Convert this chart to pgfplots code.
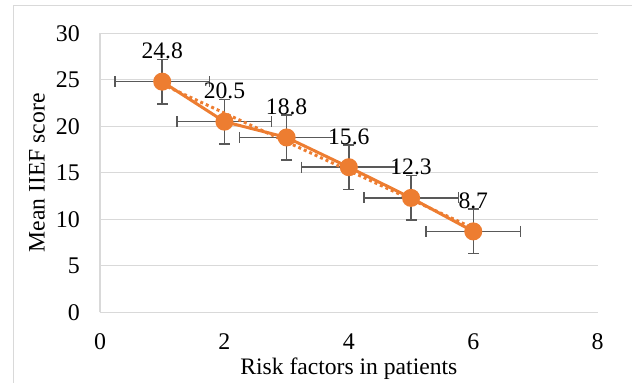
\documentclass[border=0pt]{standalone}
\usepackage{fontspec}
\setmainfont{Liberation Serif}
\usepackage{pgfplots}
\usepackage{pgfplotstable}
\pgfplotsset{compat=1.18}
\definecolor{orng}{HTML}{ED7D31}
\definecolor{grd}{HTML}{D9D9D9}
\definecolor{ebar}{HTML}{595959}
\pgfplotstableread{
x y lab
1 24.8 24.8
2 20.5 20.5
3 18.8 18.8
4 15.6 15.6
5 12.3 12.3
6 8.7 8.7
}\datatab
% horizontal error bars (x +/- 0.76)
\pgfplotstableread{
x y
0.24 24.8
1.76 24.8
nan nan
1.24 20.5
2.76 20.5
nan nan
2.24 18.8
3.76 18.8
nan nan
3.24 15.6
4.76 15.6
nan nan
4.24 12.3
5.76 12.3
nan nan
5.24 8.7
6.76 8.7
}\xerrtab
% vertical error bars (y +/- 2.4)
\pgfplotstableread{
x y
1 22.4
1 27.2
nan nan
2 18.1
2 22.9
nan nan
3 16.4
3 21.2
nan nan
4 13.2
4 18.0
nan nan
5 9.9
5 14.7
nan nan
6 6.3
6 11.1
}\yerrtab
\begin{document}
\begin{tikzpicture}[font=\fontsize{23.7}{28}\selectfont]
\useasboundingbox (-100bp,-70.7bp) rectangle (532bp,312.3bp);
\draw[grd, line width=1.2bp] (-86.7bp,-120bp) -- (-86.7bp,306.6bp) -- (580bp,306.6bp);
\begin{axis}[
  at={(0,0)}, anchor=south west,
  x=62.2125bp, y=9.3bp,
  xmin=0, xmax=8, ymin=0, ymax=30,
  xtick={0,2,...,8}, ytick={0,5,...,30},
  axis x line*=bottom, axis y line*=left,
  axis line style={grd, line width=1.2bp, -},
  major tick length=0pt,
  ymajorgrids, grid style={grd, line width=1.2bp},
  xticklabel={\pgfmathprintnumber{\tick}},
  yticklabel={\pgfmathprintnumber{\tick}},
  /pgf/number format/assume math mode=true,
  tick label style={font=\fontsize{24}{28}\selectfont},
  yticklabel style={anchor=east, inner sep=0pt, xshift=-20bp},
  xticklabel style={anchor=north, inner sep=0pt, yshift=-21.5bp},
  xlabel={Risk factors in patients},
  ylabel={Mean IIEF score},
  xlabel style={at={(axis description cs:0.5,-0.203)}, anchor=center, inner sep=0pt},
  ylabel style={at={(axis description cs:-0.1266,0.5)}, anchor=center, inner sep=0pt},
  clip=false, unbounded coords=jump,
]
\addplot[ebar, line width=1.5bp, mark=|, mark size=5.5bp, mark options={ebar, line width=1.5bp}]
  table[x=x, y=y] {\xerrtab};
\addplot[ebar, line width=1.5bp, mark=-, mark size=5.5bp, mark options={ebar, line width=1.5bp}]
  table[x=x, y=y] {\yerrtab};
\addplot[orng, line width=3bp, dash pattern=on 3bp off 3bp] coordinates {(1,24.519) (6,9.047)};
\addplot[orng, line width=3bp, mark=*, mark size=7.5bp,
  mark options={fill=orng, draw=none, solid},
  point meta=explicit symbolic, nodes near coords,
  nodes near coords style={black, anchor=base, yshift=23bp, inner sep=0pt, font=\fontsize{23.7}{28}\selectfont}]
  table[x=x, y=y, meta=lab] {\datatab};
\end{axis}
\end{tikzpicture}
\end{document}
